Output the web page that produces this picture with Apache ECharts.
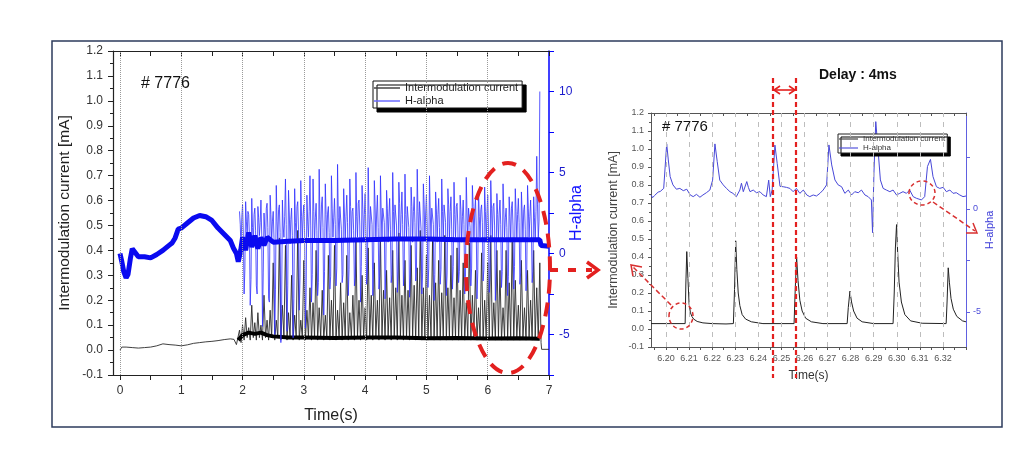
<!DOCTYPE html>
<html><head><meta charset="utf-8">
<script src="https://cdn.jsdelivr.net/npm/echarts@6/dist/echarts.min.js"></script>
<style>html,body{margin:0;padding:0;background:#fff}#c{width:1030px;height:450px}</style>
</head><body><div id="c"></div>
<script>
// ---------------- data ----------------
const leftXLabels = [0,1,2,3,4,5,6,7];
const leftXTickMarks = [0,0.5,1,1.5,2,2.5,3,3.5,4,4.5,5,5.5,6,6.5,7];
const rightXLabels = [6.20,6.21,6.22,6.23,6.24,6.25,6.26,6.27,6.28,6.29,6.30,6.31,6.32];
const rightXTickMarks = [6.195,6.20,6.205,6.21,6.215,6.22,6.225,6.23,6.235,6.24,6.245,6.25,6.255,6.26,6.265,6.27,6.275,6.28,6.285,6.29,6.295,6.30,6.305,6.31,6.315,6.32,6.325,6.33];
const rightHaTicks = [-5,-2.5,0,2.5];
const rightHaLabels = [-5,0];

// left chart: shot #7776, slow part before 1.95 s
const tBlackPre = [0,0.03,0.06,0.1,0.2,0.3,0.4,0.5,0.6,0.7,0.8,0.9,1.0,1.1,1.2,1.3,1.4,1.5,1.6,1.7,1.8,1.86,1.9,1.93];
const iBlackPre = [0.0,0.012,0.015,0.012,0.01,0.008,0.01,0.012,0.017,0.025,0.022,0.02,0.017,0.021,0.027,0.03,0.033,0.035,0.038,0.042,0.045,0.043,0.022,0.03];
// burst part, samples every 0.025 s starting at 1.95 s
const fastT0 = 1.95, fastDt = 0.025;
const iBlackFast = [
 0.08,0.03,0.1,0.04,0.13,0.05,0.09,0.04,0.18,0.05,
 0.11,0.04,0.15,0.05,0.1,0.04,0.22,0.05,0.12,0.04,
 0.16,0.05,0.35,0.04,0.12,0.05,0.45,0.04,0.18,0.05,
 0.42,0.04,0.15,0.05,0.3,0.04,0.14,0.05,0.48,0.04,
 0.12,0.05,0.36,0.04,0.16,0.05,0.25,0.04,0.19,0.05,
 0.4,0.04,0.17,0.05,0.24,0.04,0.14,0.05,0.38,0.04,
 0.2,0.05,0.42,0.04,0.16,0.05,0.27,0.04,0.19,0.05,
 0.38,0.04,0.15,0.05,0.22,0.04,0.44,0.05,0.2,0.04,
 0.3,0.05,0.17,0.04,0.41,0.05,0.22,0.04,0.35,0.05,
 0.2,0.04,0.45,0.05,0.24,0.04,0.32,0.05,0.21,0.04,
 0.4,0.05,0.25,0.04,0.47,0.05,0.22,0.04,0.36,0.05,
 0.24,0.04,0.42,0.05,0.26,0.04,0.33,0.05,0.48,0.04,
 0.25,0.05,0.38,0.04,0.22,0.05,0.44,0.04,0.27,0.05,
 0.36,0.04,0.23,0.05,0.46,0.04,0.25,0.05,0.38,0.04,
 0.21,0.05,0.41,0.04,0.24,0.05,0.35,0.04,0.19,0.05,
 0.43,0.04,0.22,0.05,0.32,0.04,0.17,0.05,0.39,0.04,
 0.2,0.05,0.35,0.04,0.46,0.05,0.19,0.04,0.4,0.05,
 0.32,0.04,0.17,0.05,0.4,0.04,0.27,0.05,0.45,0.04,
 0.28,0.05,0.18,0.04,0.36,0.05,0.17,0.04,0.32,0.05,
 0.2,0.04,0.4,0.05,0.25,0.04,0.35];
const tBlackPost = [6.87,6.88,7.0];
const iBlackPost = [0.03,0.003,0.003];
// slow (baseline) level of the current during the burst
const tBlackBase = [1.93,2.0,2.1,2.2,2.3,2.4,2.5,2.75,3.0,3.5,4.0,4.5,5.0,5.5,6.0,6.5,6.85];
const iBlackBase = [0.04,0.06,0.07,0.065,0.07,0.06,0.055,0.05,0.05,0.048,0.05,0.05,0.047,0.048,0.046,0.047,0.045];

// H-alpha burst samples (same 0.025 s grid)
const hAlphaFast = [
 2.6,0.2,3.0,-2.5,  3.2,1.0,2.4,-3.2,  3.4,0.6,2.8,-2.0,  2.9,1.1,3.3,-4.5,
 2.5,0.5,3.1,-2.8,  3.6,0.8,2.6,-5.0,  4.2,0.7,3.0,-5.5,  3.3,1.0,4.6,-4.8,
 3.9,0.6,2.8,-5.2,  4.0,0.9,3.2,-3.5,  4.5,0.8,3.0,-4.6,  3.6,1.0,4.8,-3.0,
 4.6,0.7,3.1,-2.6,  5.2,0.9,3.5,-3.8,  4.3,0.8,2.9,-2.2,  4.8,1.0,3.4,-2.0,
 5.5,0.7,3.0,-1.8,  4.0,0.9,3.6,-2.6,  4.6,0.8,2.8,-2.0,  5.0,1.0,3.3,-3.0,
 4.2,0.7,3.7,-1.9,  5.3,0.9,3.0,-2.6,  4.5,0.8,3.6,-2.2,  4.8,1.0,2.9,-2.8,
 3.9,0.7,3.4,-1.8,  5.0,0.9,3.1,-2.4,  4.4,0.8,3.8,-2.0,  4.9,1.0,3.0,-2.7,
 4.1,0.7,3.5,-1.7,  5.2,0.9,3.2,-2.5,  4.3,0.8,3.6,-2.1,  4.8,1.0,2.9,-2.9,
 3.8,0.7,3.4,-1.9,  4.6,0.9,3.0,-2.6,  4.0,0.8,3.5,-2.2,  4.4,1.0,3.1,-1.8,
 3.6,0.7,3.3,-2.5,  4.7,0.9,2.9,-2.0,  4.2,0.8,3.4,-2.8,  3.9,1.0,3.0,-1.7,
 4.1,0.7,3.6,-2.4,  4.5,0.9,3.1,-2.9,  3.7,0.8,3.3,-2.1,  4.3,1.0,2.8,-2.6,
 3.5,0.7,3.2,-2.2,  4.0,0.9,3.4,-1.9,  3.8,0.8,3.0,-2.3,  4.2,1.0,3.3,-1.8,
 3.5,0.8,6.0,0.9,  10.0];
// H-alpha samples half-way between the ones above
const hAlphaMid = [
 1.8,2.2,1.2,-1.0,  2.0,2.6,1.0,-1.6,  1.6,2.4,1.4,-2.5,  2.2,1.9,1.2,-1.2,
 1.5,2.8,1.6,-3.0,  2.4,2.0,1.0,-2.2,  2.0,2.7,1.3,-3.4,  1.7,2.3,1.8,-2.0,
 2.5,2.1,1.1,-2.8,  1.9,2.9,1.5,-1.5,  2.3,2.4,1.2,-2.4,  2.0,2.6,1.7,-1.3,
 2.6,2.2,1.4,-1.8,  2.1,3.0,1.6,-1.1,  2.4,2.5,1.3,-1.4,  2.8,2.2,1.8,-0.9,
 2.2,2.9,1.5,-1.3,  2.5,2.3,1.9,-1.0,  2.9,2.6,1.4,-1.5,  2.3,3.1,1.7,-0.8,
 2.7,2.4,1.5,-1.2,  2.4,2.9,1.8,-1.0,  3.0,2.5,1.6,-1.4,  2.5,2.8,1.9,-0.9,
 2.8,2.3,1.5,-1.3,  2.6,3.0,1.7,-1.1,  3.1,2.4,1.8,-0.8,  2.4,2.9,1.6,-1.4,
 2.9,2.6,1.9,-1.0,  2.6,3.2,1.5,-1.2,  3.0,2.5,1.7,-0.9,  2.5,2.8,1.8,-1.3,
 2.8,2.4,1.6,-1.0,  2.6,3.0,1.9,-1.2,  3.0,2.6,1.5,-0.8,  2.4,2.9,1.7,-1.1,
 2.7,2.3,1.8,-1.4,  2.5,2.8,1.6,-0.9,  2.9,2.5,1.7,-1.2,  2.3,2.7,1.9,-1.0,
 2.6,2.4,1.5,-1.3,  2.8,2.9,1.7,-0.9,  2.4,2.5,1.8,-1.1,  2.7,2.2,1.6,-1.4,
 2.3,2.8,1.7,-0.8,  2.6,2.4,1.9,-1.2,  2.5,2.7,1.5,-1.0,  2.8,2.3,1.7,-1.1,
 2.2,2.6,3.0,2.0];
// slow (baseline) component of H-alpha over the whole shot
const tHaSlow = [0,0.03,0.06,0.1,0.13,0.17,0.2,0.25,0.3,0.4,0.5,0.6,0.7,0.8,0.85,0.9,0.95,1.0,1.1,1.2,1.3,1.4,1.5,1.6,1.7,1.8,1.85,1.9,1.93,1.97,2.0,2.05,2.1,2.15,2.2,2.25,2.3,2.35,2.4,2.5,2.75,3.0,3.5,4.0,4.5,5.0,5.5,6.0,6.5,6.85,6.87,6.9,7.0];
const hHaSlow = [0.0,-0.5,-1.1,-1.5,-1.3,-0.3,0.3,0.05,-0.2,-0.2,-0.27,-0.06,0.19,0.5,0.65,0.96,1.5,1.57,1.88,2.19,2.35,2.27,2.04,1.57,1.19,0.8,0.34,0.0,-0.5,0.2,1.0,0.2,1.3,0.4,1.1,0.3,1.0,0.5,1.0,0.7,0.75,0.8,0.8,0.85,0.9,0.9,0.85,0.85,0.85,0.85,0.5,0.45,0.45];

// right chart: zoom 6.19 - 6.33 s
const rBlackT = [6.1935,6.2083,6.2086,6.2090,6.2095,6.2100,6.2106,6.2112,6.2120,6.2135,6.2160,6.2200,6.2260,6.2292,6.2297,6.2302,6.2307,6.2313,6.2320,6.2330,6.2345,6.2370,6.2420,6.2555,6.2560,6.2566,6.2572,6.2580,6.2590,6.2605,6.2630,6.2680,6.2785,6.2790,6.2797,6.2804,6.2813,6.2828,6.2850,6.2900,6.2984,6.2989,6.2994,6.2999,6.3004,6.3010,6.3020,6.3035,6.3060,6.3110,6.3214,6.3218,6.3223,6.3228,6.3235,6.3245,6.3260,6.3285,6.3300];
const rBlackI = [0.03,0.03,0.25,0.43,0.28,0.14,0.09,0.07,0.055,0.042,0.034,0.03,0.028,0.03,0.22,0.49,0.33,0.2,0.13,0.08,0.055,0.04,0.03,0.03,0.22,0.40,0.27,0.16,0.1,0.06,0.04,0.03,0.03,0.12,0.21,0.15,0.1,0.06,0.04,0.03,0.03,0.2,0.45,0.58,0.42,0.26,0.15,0.08,0.045,0.032,0.03,0.15,0.34,0.26,0.17,0.11,0.07,0.045,0.04];
const rBlueT = [6.1935,6.1942,6.1950,6.1958,6.1966,6.1975,6.1990,6.2003,6.2010,6.2018,6.2030,6.2045,6.2060,6.2075,6.2090,6.2105,6.2118,6.2132,6.2147,6.2160,6.2175,6.2190,6.2202,6.2212,6.2222,6.2233,6.2248,6.2262,6.2277,6.2290,6.2305,6.2320,6.2327,6.2335,6.2350,6.2357,6.2364,6.2378,6.2392,6.2407,6.2421,6.2435,6.2445,6.2452,6.2460,6.2472,6.2482,6.2494,6.2508,6.2522,6.2537,6.2551,6.2565,6.2580,6.2595,6.2610,6.2623,6.2638,6.2652,6.2667,6.2681,6.2696,6.2706,6.2718,6.2732,6.2746,6.2761,6.2775,6.2790,6.2804,6.2818,6.2833,6.2847,6.2862,6.2876,6.2890,6.2895,6.2901,6.2909,6.2919,6.2929,6.2941,6.2955,6.2970,6.2984,6.2999,6.3013,6.3027,6.3042,6.3056,6.3071,6.3085,6.3107,6.3121,6.3133,6.3146,6.3157,6.3172,6.3186,6.3201,6.3215,6.3230,6.3244,6.3258,6.3273,6.3287,6.3300];
const rBlueH = [0.68,0.55,0.65,0.72,0.82,0.85,1.0,3.16,2.38,1.57,1.17,0.96,1.0,0.89,0.96,0.68,0.6,0.71,0.57,0.68,0.79,0.92,1.4,3.16,2.3,1.4,1.17,1.0,0.84,0.76,0.6,0.92,1.25,0.84,1.33,1.05,0.84,0.92,0.79,0.84,0.68,0.6,1.4,0.6,0.92,3.1,2.2,1.1,1.08,1.05,1.0,0.84,1.0,0.76,0.92,0.68,0.6,0.68,0.63,0.76,0.92,1.17,3.11,2.14,1.41,1.17,1.08,0.76,0.92,0.68,0.84,0.79,0.92,0.68,0.6,0.44,-1.15,1.73,4.24,2.86,1.41,1.0,0.92,0.84,0.92,0.68,0.76,0.84,0.76,0.92,0.6,0.52,0.44,0.6,2.06,2.41,1.57,1.08,1.0,1.05,0.84,0.92,0.76,0.79,0.68,0.6,0.63];

// ---------------- build ----------------
const F = 'Liberation Sans, Arial, sans-serif';
const pairs = (ts, vs) => ts.map((t, i) => [t, vs[i]]);
const fastPairs = vs => vs.map((v, i) => [+(fastT0 + i * fastDt).toFixed(4), v]);
const leftBlack = pairs(tBlackPre, iBlackPre).concat(fastPairs(iBlackFast), pairs(tBlackPost, iBlackPost));
const leftHaFast = [];
hAlphaFast.forEach((v, i) => {
  leftHaFast.push([+(fastT0 + i * fastDt).toFixed(4), v]);
  if (i < hAlphaMid.length) leftHaFast.push([+(fastT0 + (i + 0.5) * fastDt).toFixed(4), hAlphaMid[i]]);
});
const leftHaSlow = pairs(tHaSlow, hHaSlow);
const RED = '#e3201f';

const chart = echarts.init(document.getElementById('c'), null, {renderer: 'canvas'});
chart.setOption({
  animation: false,
  backgroundColor: '#fff',
  textStyle: {fontFamily: F},
  grid: [
    {left: 113, top: 51, width: 436, height: 324},
    {left: 651, top: 113, width: 315, height: 234}
  ],
  legend: [{
    left: 373, top: 81, orient: 'vertical', itemGap: 1, itemWidth: 26, itemHeight: 1.5,
    padding: [1, 4, 1, 1], backgroundColor: '#fff', borderColor: '#111', borderWidth: 1,
    shadowColor: '#000', shadowOffsetX: 4, shadowOffsetY: 4, shadowBlur: 0, selectedMode: false,
    textStyle: {fontSize: 11, color: '#222', fontFamily: F, lineHeight: 12},
    data: [
      {name: 'Intermodulation current', icon: 'rect', itemStyle: {color: '#444'}},
      {name: 'H-alpha', icon: 'rect', itemStyle: {color: '#6a6aff'}}
    ]
  }, {
    left: 838, top: 134, orient: 'vertical', itemGap: 1, itemWidth: 19, itemHeight: 1.2,
    padding: [1, 2, 1, 1], backgroundColor: '#fff', borderColor: '#222', borderWidth: 1,
    shadowColor: '#000', shadowOffsetX: 3, shadowOffsetY: 3, shadowBlur: 0, selectedMode: false,
    textStyle: {fontSize: 8, color: '#333', fontFamily: F, lineHeight: 8},
    data: [
      {name: 'Intermodulation current', icon: 'rect', itemStyle: {color: '#444'}},
      {name: 'H-alpha', icon: 'rect', itemStyle: {color: '#5555dd'}}
    ]
  }],
  xAxis: [
    {gridIndex: 0, type: 'value', min: -0.114, max: 7, position: 'bottom',
     axisLine: {onZero: false, lineStyle: {color: '#222', width: 1.2}},
     axisTick: {customValues: leftXTickMarks, length: 5, lineStyle: {color: '#222'}},
     axisLabel: {customValues: leftXLabels, margin: 10, fontSize: 12, color: '#333', fontFamily: F},
     splitLine: {show: false},
     name: 'Time(s)', nameLocation: 'middle', nameGap: 33,
     nameTextStyle: {fontSize: 16, color: '#222', fontFamily: F}},
    {gridIndex: 0, type: 'value', min: -0.114, max: 7, position: 'top',
     axisLine: {onZero: false, lineStyle: {color: '#222', width: 1.2}},
     axisTick: {inside: true, customValues: leftXTickMarks, length: 5, lineStyle: {color: '#222'}},
     axisLabel: {show: false}, splitLine: {show: false}},
    {gridIndex: 1, type: 'value', min: 6.1935, max: 6.33, position: 'bottom',
     axisLine: {onZero: false, lineStyle: {color: '#555', width: 1}},
     axisTick: {customValues: rightXTickMarks, length: 3, lineStyle: {color: '#555'}},
     axisLabel: {customValues: rightXLabels, formatter: v => v.toFixed(2), margin: 7, fontSize: 9, color: '#555', fontFamily: F},
     splitLine: {show: false},
     name: 'Time(s)', nameLocation: 'middle', nameGap: 23,
     nameTextStyle: {fontSize: 12, color: '#333', fontFamily: F}},
    {gridIndex: 1, type: 'value', min: 6.1935, max: 6.33, position: 'top',
     axisLine: {onZero: false, lineStyle: {color: '#555', width: 1}},
     axisTick: {inside: true, customValues: rightXTickMarks, length: 3, lineStyle: {color: '#555'}},
     axisLabel: {show: false}, splitLine: {show: false}}
  ],
  yAxis: [
    {gridIndex: 0, type: 'value', min: -0.1, max: 1.2, interval: 0.1, position: 'left',
     axisLine: {show: true, onZero: false, lineStyle: {color: '#222', width: 1.2}},
     axisTick: {show: true, length: 5, lineStyle: {color: '#222'}},
     minorTick: {show: true, splitNumber: 2, length: 3, lineStyle: {color: '#222'}},
     axisLabel: {formatter: v => v.toFixed(1), fontSize: 12, color: '#333', margin: 10, fontFamily: F},
     splitLine: {show: false}, minorSplitLine: {show: false},
     name: 'Intermodulation current [mA]', nameLocation: 'middle', nameGap: 40,
     nameTextStyle: {fontSize: 15.5, color: '#222', fontFamily: F}},
    {gridIndex: 0, type: 'value', min: -7.5, max: 12.5, interval: 2.5, position: 'right',
     axisLine: {show: true, onZero: false, lineStyle: {color: '#0000ff', width: 1.5}},
     axisTick: {show: true, length: 5, lineStyle: {color: '#0000ff'}},
     axisLabel: {formatter: v => (Math.abs(v % 5) < 1e-9 && v > -7 && v < 12) ? String(v) : '',
                 fontSize: 12, color: '#1a1acc', margin: 10, fontFamily: F},
     splitLine: {show: false},
     name: 'H-alpha', nameLocation: 'middle', nameGap: 20, nameMoveOverlap: false,
     nameTextStyle: {fontSize: 16, color: '#1515ff', fontFamily: F}},
    {gridIndex: 1, type: 'value', min: -0.1, max: 1.2, interval: 0.1, position: 'left',
     axisLine: {show: true, onZero: false, lineStyle: {color: '#555', width: 1}},
     axisTick: {show: true, length: 3, lineStyle: {color: '#555'}},
     minorTick: {show: true, splitNumber: 2, length: 2, lineStyle: {color: '#555'}},
     axisLabel: {formatter: v => v.toFixed(1), fontSize: 9, color: '#555', margin: 7, fontFamily: F},
     splitLine: {show: false}, minorSplitLine: {show: false},
     name: 'Intermodulation current [mA]', nameLocation: 'middle', nameGap: 31,
     nameTextStyle: {fontSize: 12.5, color: '#444', fontFamily: F}},
    {gridIndex: 1, type: 'value', min: -6.7, max: 4.66, position: 'right',
     axisLine: {show: true, onZero: false, lineStyle: {color: '#6060e0', width: 1}},
     axisTick: {show: true, customValues: rightHaTicks, length: 4, lineStyle: {color: '#6060e0'}},
     axisLabel: {customValues: rightHaLabels, fontSize: 9, color: '#4a4ad8', margin: 7, fontFamily: F},
     splitLine: {show: false},
     name: 'H-alpha', nameLocation: 'middle', nameGap: 18,
     nameTextStyle: {fontSize: 11, color: '#3c3cd8', fontFamily: F}}
  ],
  series: [
    {type: 'line', name: 'grid-left', xAxisIndex: 0, yAxisIndex: 0, data: [], z: 1,
     markLine: {silent: true, symbol: ['none', 'none'], label: {show: false},
       lineStyle: {type: 'dotted', color: '#9a9a9a', width: 1},
       data: leftXLabels.slice(0, 7).map(v => ({xAxis: v}))}},
    {type: 'line', name: 'grid-right', xAxisIndex: 2, yAxisIndex: 2, data: [], z: 1,
     markLine: {silent: true, symbol: ['none', 'none'], label: {show: false},
       lineStyle: {type: [5, 5], color: '#bdbdbd', width: 1},
       data: rightXLabels.map(v => ({xAxis: v}))}},
    {type: 'line', name: 'Intermodulation current', xAxisIndex: 0, yAxisIndex: 0, data: leftBlack,
     showSymbol: false, symbol: 'none', lineStyle: {color: '#2a2a2a', width: 0.9}, itemStyle: {color: '#2a2a2a'}, z: 3},
    {type: 'line', name: 'Intermodulation current', xAxisIndex: 0, yAxisIndex: 0, data: pairs(tBlackBase, iBlackBase),
     showSymbol: false, symbol: 'none', lineStyle: {color: '#000', width: 4}, itemStyle: {color: '#000'}, z: 3},
    {type: 'line', name: 'H-alpha', xAxisIndex: 0, yAxisIndex: 1, data: leftHaFast,
     showSymbol: false, symbol: 'none', lineStyle: {color: '#3030ff', width: 1, opacity: 0.8}, itemStyle: {color: '#3030ff'}, z: 4},
    {type: 'line', name: 'H-alpha', xAxisIndex: 0, yAxisIndex: 1, data: leftHaSlow,
     showSymbol: false, symbol: 'none', lineStyle: {color: '#0a0af0', width: 5}, itemStyle: {color: '#0a0af0'}, z: 4},
    {type: 'line', name: 'Intermodulation current', xAxisIndex: 2, yAxisIndex: 2, data: pairs(rBlackT, rBlackI),
     showSymbol: false, symbol: 'none', lineStyle: {color: '#222', width: 1}, itemStyle: {color: '#222'}, z: 3},
    {type: 'line', name: 'H-alpha', xAxisIndex: 2, yAxisIndex: 3, data: pairs(rBlueT, rBlueH),
     showSymbol: false, symbol: 'none', lineStyle: {color: '#4747d8', width: 1}, itemStyle: {color: '#4747d8'}, z: 3}
  ],
  graphic: [
    {type: 'rect', shape: {x: 52, y: 41, width: 950, height: 386}, style: {fill: 'none', stroke: '#2d3b5c', lineWidth: 1.5}, z: 0, silent: true},
    {type: 'text', x: 141, y: 84, style: {text: '# 7776', font: '16px ' + F, fill: '#111', verticalAlign: 'middle'}, z: 50},
    {type: 'text', x: 662, y: 127, style: {text: '# 7776', font: '15px ' + F, fill: '#111', verticalAlign: 'middle'}, z: 50},
    {type: 'text', x: 819, y: 75, style: {text: 'Delay : 4ms', font: 'bold 14px ' + F, fill: '#111', verticalAlign: 'middle'}, z: 50},
    // red annotations
    {type: 'ellipse', shape: {cx: 508, cy: 268, rx: 42, ry: 105}, style: {fill: 'none', stroke: RED, lineWidth: 4, lineDash: [14, 9]}, z: 100},
    {type: 'line', shape: {x1: 550, y1: 270, x2: 592, y2: 270}, style: {stroke: RED, lineWidth: 4, lineDash: [8, 10]}, z: 100},
    {type: 'polyline', shape: {points: [[587, 262], [598, 270], [587, 278]]}, style: {stroke: RED, lineWidth: 3.5, fill: 'none'}, z: 100},
    {type: 'line', shape: {x1: 773, y1: 78, x2: 773, y2: 378}, style: {stroke: RED, lineWidth: 2.2, lineDash: [5, 3]}, z: 100},
    {type: 'line', shape: {x1: 796, y1: 78, x2: 796, y2: 378}, style: {stroke: RED, lineWidth: 2.2, lineDash: [5, 3]}, z: 100},
    {type: 'line', shape: {x1: 774, y1: 90, x2: 795, y2: 90}, style: {stroke: RED, lineWidth: 1.6}, z: 100},
    {type: 'polyline', shape: {points: [[780, 86], [774, 90], [780, 94]]}, style: {stroke: RED, lineWidth: 1.6, fill: 'none'}, z: 100},
    {type: 'polyline', shape: {points: [[789, 86], [795, 90], [789, 94]]}, style: {stroke: RED, lineWidth: 1.6, fill: 'none'}, z: 100},
    {type: 'ellipse', shape: {cx: 681, cy: 316, rx: 12, ry: 13}, style: {fill: 'none', stroke: '#d83030', lineWidth: 1.5, lineDash: [4, 3]}, z: 100},
    {type: 'line', shape: {x1: 671, y1: 305, x2: 633, y2: 267}, style: {stroke: '#d83030', lineWidth: 1.5, lineDash: [5, 3]}, z: 100},
    {type: 'polyline', shape: {points: [[633, 276], [631, 265], [642, 267]]}, style: {stroke: '#d83030', lineWidth: 1.5, fill: 'none'}, z: 100},
    {type: 'ellipse', shape: {cx: 922, cy: 193, rx: 13, ry: 12}, style: {fill: 'none', stroke: '#d83030', lineWidth: 1.5, lineDash: [4, 3]}, z: 100},
    {type: 'line', shape: {x1: 933, y1: 202, x2: 975, y2: 231}, style: {stroke: '#d83030', lineWidth: 1.5, lineDash: [5, 3]}, z: 100},
    {type: 'polyline', shape: {points: [[966, 233], [977, 233], [973, 223]]}, style: {stroke: '#d83030', lineWidth: 1.5, fill: 'none'}, z: 100}
  ]
});
</script>
</body></html>
